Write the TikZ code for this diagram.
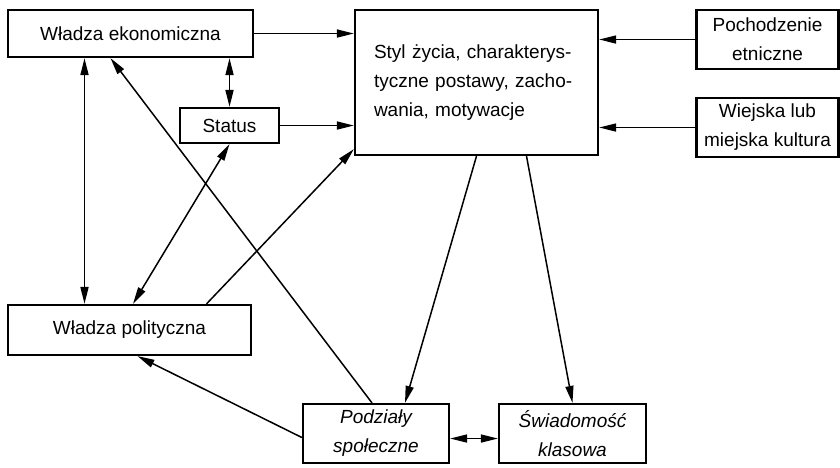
\documentclass[tikz,border=0pt]{standalone}
\usepackage{fontspec}
\setmainfont{Liberation Sans}
\usetikzlibrary{arrows.meta, positioning, calc}
\tikzset{
  box/.style={draw=black, line width=2.2pt, inner sep=2pt, align=center,
    font=\fontsize{19}{29}\selectfont},
  link/.style={line width=1.5pt, -{Triangle[length=17pt,width=8pt]}},
  twoway/.style={line width=1.5pt,
    {Triangle[length=17pt,width=8pt]}-{Triangle[length=17pt,width=8pt]}},
}

\begin{document}
\begin{tikzpicture}[x=1pt, y=-1pt]
    \useasboundingbox (0,0) rectangle (840,467);

    % left column
    \node[box, minimum width=245pt, minimum height=47pt] (wek) at (130.5,33.5) {Władza ekonomiczna};
    \node[box, minimum width=99pt, minimum height=35pt] (status) at (229.5,125.5) {Status};
    \node[box, minimum width=243pt, minimum height=50pt] (wpol) at (129.5,330) {Władza polityczna};

    % centre
    \node[box, minimum width=243pt, minimum height=145pt, text width=205pt, align=left] (styl) at (476.5,82.5)
      {Styl życia, charakterys-\\tyczne postawy, zacho-\\wania, motywacje};

    % right column
    \node[box, minimum width=142pt, minimum height=59pt, inner sep=0pt] (poch) at (767.5,39.5) {Pochodzenie\\etniczne};
    \node[box, minimum width=142pt, minimum height=59pt, inner sep=0pt] (wiej) at (767.5,127.5) {Wiejska lub\\miejska kultura};

    % bottom row
    \node[box, minimum width=146pt, minimum height=59pt, inner sep=0pt, font=\fontsize{19}{29}\selectfont\itshape] (podz) at (376,433.5) {Podziały\\społeczne};
    \node[box, minimum width=147pt, minimum height=59pt, inner sep=0pt, font=\fontsize{19}{29}\selectfont\itshape] (swiad) at (572.5,433.5) {Świadomość\\klasowa};

    % into the centre box
    \draw[link] (wek.east) -- (wek.east -| styl.west);
    \draw[link] (status.east) -- (status.east -| styl.west);
    \draw[link] (poch.west) -- (poch.west -| styl.east);
    \draw[link] (wiej.west) -- (wiej.west -| styl.east);
    \draw[link] ([xshift=77pt]wpol.north) -- ([yshift=7pt]styl.south west);

    % between the powers and status
    \draw[twoway] (status.north) -- (status.north |- wek.south);
    \draw[twoway] ([xshift=-46pt]wek.south) -- ([xshift=-46pt]wek.south |- wpol.north);
    \draw[twoway] (status.south) -- ([xshift=3.5pt]wpol.north);

    % from the divisions
    \draw[link] ([xshift=-4pt]podz.north) -- ([xshift=-20pt]wek.south);
    \draw[link] ([yshift=-4pt]podz.west) -- ([xshift=8pt]wpol.south);
    \draw[link] (styl.south) -- ([xshift=29pt]podz.north);
    \draw[link] ([xshift=50pt]styl.south) -- (swiad.north);
    \draw[twoway] ([yshift=-5pt]podz.east) -- ([yshift=-5pt]swiad.west);
\end{tikzpicture}
\end{document}
